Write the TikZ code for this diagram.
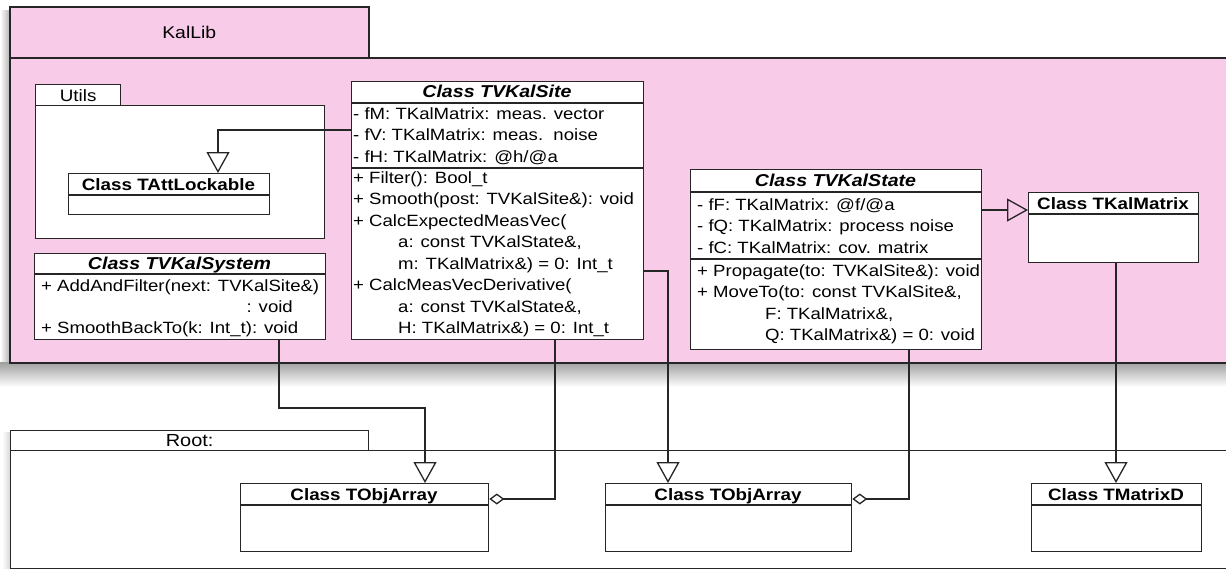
\documentclass[tikz,border=0pt]{standalone}
\usepackage{fontspec}
\setmainfont[FakeStretch=1.14]{Liberation Sans}
\usetikzlibrary{arrows.meta}
\definecolor{kpink}{RGB}{248,203,233}
\definecolor{kline}{RGB}{38,38,38}
\begin{document}
\begin{tikzpicture}[x=1pt,y=-1pt,
  every node/.style={font=\fontsize{16.3}{19}\selectfont, text=black},
  box/.style={draw=kline, fill=white, line width=1.3pt, inner sep=0pt, anchor=north west},
  pkg/.style={draw=kline, line width=1.5pt, inner sep=0pt, anchor=north west},
  sep/.style={draw=kline, line width=1.3pt},
  txt/.style={anchor=base west, inner sep=0pt},
  rtxt/.style={anchor=base east, inner sep=0pt},
  hdr/.style={anchor=base, inner sep=0pt, font=\fontsize{16.5}{19}\selectfont\bfseries},
  ihdr/.style={anchor=base, inner sep=0pt, font=\fontsize{17.2}{19}\selectfont\bfseries\itshape},
  plabel/.style={inner sep=0pt, font=\fontsize{17}{20}\selectfont},
  conn/.style={draw=kline, line width=1.3pt},
  gen/.style={conn, -{Triangle[open, length=21pt, width=23pt]}},
  agg/.style={conn, {Diamond[open, length=15pt, width=11pt]}-}]
\clip (0,0) rectangle (1226,570);
\fill[white] (0,0) rectangle (1226,570);
% shadows
\shade[left color=white, right color=gray!55] (0,10) rectangle (9,372);
\shade[top color=gray!75, bottom color=white] (0,362) rectangle (1226,387);
\shade[left color=white, right color=gray!30] (2,432) rectangle (10,568);
% KalLib package
\node[pkg, fill=kpink, minimum width=359pt, minimum height=51pt] (kaltab) at (9,6) {};
\node[plabel] (kallabel) at (kaltab.center) {KalLib};
\node[pkg, fill=kpink, minimum width=1240pt, minimum height=305pt] (kalbody) at (9,57) {};
% Root package
\node[box, minimum width=358pt, minimum height=20pt] (rtab) at (10,430) {};
\node[plabel, font=\fontsize{17.5}{20}\selectfont] (rlabel) at (rtab.center) {Root:};
\node[box, minimum width=1230pt, minimum height=118pt] (rbody) at (10,450) {};
% Utils package
\node[box, minimum width=85pt, minimum height=21pt] (utab) at (35,84) {};
\node[plabel, font=\fontsize{16.5}{20}\selectfont] (ulabel) at (utab.center) {Utils};
\node[box, minimum width=289pt, minimum height=133pt] (ubody) at (35,105) {};
% TAttLockable
\node[box, minimum width=201pt, minimum height=41pt] (att) at (68,173) {};
\draw[sep] (68,195) -- (269,195);
\node[hdr] (atth) at (168.5,190) {Class TAttLockable};
% TVKalSystem
\node[box, minimum width=291pt, minimum height=86pt] (sys) at (34,253) {};
\draw[sep] (34,274) -- (325,274);
\node[ihdr] (sysh) at (179.5,269) {Class TVKalSystem};
\node[txt] (sys1) at (41,291) {+ AddAndFilter(next: TVKalSite\&)};
\node[rtxt] (sys2) at (293,312) {: void};
\node[txt] (sys3) at (41,333) {+ SmoothBackTo(k: Int\_t): void};
% TVKalSite
\node[box, minimum width=292pt, minimum height=258pt] (site) at (351,81) {};
\draw[sep] (351,103) -- (643,103);
\draw[sep] (351,168) -- (643,168);
\node[ihdr] (siteh) at (497,97.5) {Class TVKalSite};
\node[txt] (site1) at (353,119) {- fM: TKalMatrix: meas. vector};
\node[txt] (site2) at (353,140.5) {- fV: TKalMatrix: meas.\ \ noise};
\node[txt] (site3) at (353,162) {- fH: TKalMatrix: @h/@a};
\node[txt] (site4) at (353,183) {+ Filter(): Bool\_t};
\node[txt] (site5) at (353,204.5) {+ Smooth(post: TVKalSite\&): void};
\node[txt] (site6) at (353,226) {+ CalcExpectedMeasVec(};
\node[txt] (site7) at (398,247.5) {a: const TVKalState\&,};
\node[txt] (site8) at (398,269) {m: TKalMatrix\&) = 0: Int\_t};
\node[txt] (site9) at (353,290.5) {+ CalcMeasVecDerivative(};
\node[txt] (site10) at (398,312) {a: const TVKalState\&,};
\node[txt] (site11) at (398,333.5) {H: TKalMatrix\&) = 0: Int\_t};
% TVKalState
\node[box, minimum width=291pt, minimum height=180pt] (state) at (690,169) {};
\draw[sep] (690,192) -- (981,192);
\draw[sep] (690,259) -- (981,259);
\node[ihdr] (stateh) at (835.5,186) {Class TVKalState};
\node[txt] (st1) at (697,210) {- fF: TKalMatrix: @f/@a};
\node[txt] (st2) at (697,231.5) {- fQ: TKalMatrix: process noise};
\node[txt] (st3) at (697,253) {- fC: TKalMatrix: cov. matrix};
\node[txt] (st4) at (697,276) {+ Propagate(to: TVKalSite\&): void};
\node[txt] (st5) at (697,297.5) {+ MoveTo(to: const TVKalSite\&,};
\node[txt] (st6) at (765,319) {F: TKalMatrix\&,};
\node[txt] (st7) at (765,340.5) {Q: TKalMatrix\&) = 0: void};
% TKalMatrix
\node[box, minimum width=170pt, minimum height=70pt] (kmat) at (1028,192) {};
\draw[sep] (1028,214) -- (1198,214);
\node[hdr] (kmath) at (1113,209) {Class TKalMatrix};
% TObjArray 1
\node[box, minimum width=248pt, minimum height=68pt] (obj1) at (240,483) {};
\draw[sep] (240,505) -- (488,505);
\node[hdr] (obj1h) at (364,500) {Class TObjArray};
% TObjArray 2
\node[box, minimum width=246pt, minimum height=68pt] (obj2) at (605,483) {};
\draw[sep] (605,505) -- (851,505);
\node[hdr] (obj2h) at (728,500) {Class TObjArray};
% TMatrixD
\node[box, minimum width=170pt, minimum height=68pt] (mtd) at (1031,483) {};
\draw[sep] (1031,505) -- (1201,505);
\node[hdr] (mtdh) at (1116,500) {Class TMatrixD};
% connectors
\coordinate (c1) at (218,130);
\draw[gen] (c1 -| site.west) -- (c1) -- (c1 |- att.north);
\coordinate (c2) at (279,408);
\coordinate (c2b) at (425,408);
\draw[gen] (c2 |- sys.south) -- (c2) -- (c2b) -- (c2b |- obj1.north);
\coordinate (c3) at (555,499);
\draw[agg] (c3 -| obj1.east) -- (c3) -- (c3 |- site.south);
\coordinate (c4) at (668,271);
\draw[gen] (c4 -| site.east) -- (c4) -- (c4 |- obj2.north);
\coordinate (c5) at (909,499);
\draw[agg] (c5 -| obj2.east) -- (c5) -- (c5 |- state.south);
\coordinate (c6) at (1000,210);
\draw[gen] (c6 -| state.east) -- (c6 -| kmat.west);
\coordinate (c7) at (1116,300);
\draw[gen] (c7 |- kmat.south) -- (c7 |- mtd.north);
\end{tikzpicture}
\end{document}
